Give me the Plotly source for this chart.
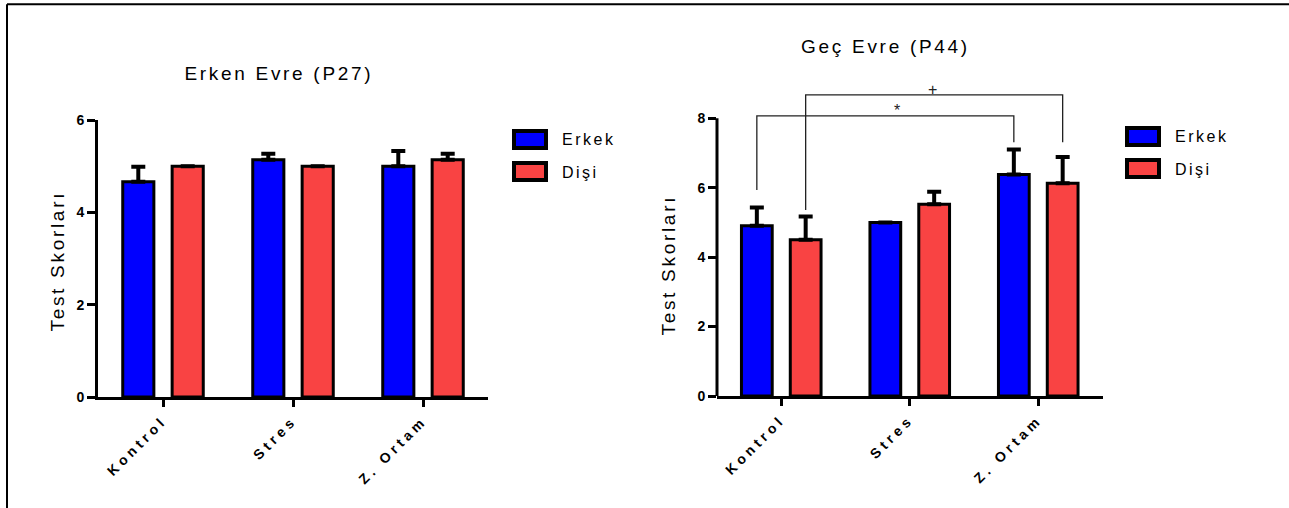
import plotly.graph_objects as go

# ---- data -------------------------------------------------------------
CATEGORIES = ["Kontrol", "Stres", "Z. Ortam"]
SERIES = ["Erkek", "Dişi"]

EARLY_ERKEK = [4.66, 5.14, 5.0]
EARLY_ERKEK_ERR = [0.33, 0.13, 0.33]
EARLY_DISI = [5.0, 5.0, 5.14]
EARLY_DISI_ERR = [0.0, 0.0, 0.13]

LATE_ERKEK = [4.9, 5.0, 6.38]
LATE_ERKEK_ERR = [0.53, 0.0, 0.72]
LATE_DISI = [4.5, 5.52, 6.13]
LATE_DISI_ERR = [0.67, 0.36, 0.75]

Y_TICKS_EARLY = [0, 2, 4, 6]
Y_TICKS_LATE = [0, 2, 4, 6, 8]

TITLE_EARLY = "Erken Evre (P27)"
TITLE_LATE = "Geç Evre (P44)"
Y_TITLE = "Test Skorları"

# significance brackets on the late-phase panel
BRACKETS = [
    dict(label="*", series=0, cat_a=0, cat_b=2, level=8.07, foot_a=5.93, foot_b=7.31, label_x=0.9),
    dict(label="+", series=1, cat_a=0, cat_b=2, level=8.67, foot_a=5.36, foot_b=7.31, label_x=1.18),
]

# ---- style ------------------------------------------------------------
W, H = 1289, 508
BLUE = "#0000FF"
RED = "#F94343"
COLORS = [BLUE, RED]
FONT = "Liberation Sans, Arial, sans-serif"
BARGAP = 0.24
BARGROUPGAP = 0.37


def px(x):
    return x / W


def py(y):
    return 1 - y / H


fig = go.Figure()


def add_bars(values, errors, name, color, xa, ya):
    fig.add_trace(go.Bar(
        x=CATEGORIES, y=values, name=name, xaxis=xa, yaxis=ya,
        marker=dict(color=color, line=dict(color="black", width=3)),
        error_y=dict(type="data", array=errors, arrayminus=[0] * len(errors),
                     symmetric=False, color="black", thickness=4, width=7),
        showlegend=False,
    ))


add_bars(EARLY_ERKEK, EARLY_ERKEK_ERR, SERIES[0], BLUE, "x", "y")
add_bars(EARLY_DISI, EARLY_DISI_ERR, SERIES[1], RED, "x", "y")
add_bars(LATE_ERKEK, LATE_ERKEK_ERR, SERIES[0], BLUE, "x2", "y2")
add_bars(LATE_DISI, LATE_DISI_ERR, SERIES[1], RED, "x2", "y2")

tick_font = dict(family=FONT, size=14, color="black", weight="bold")
xaxis_common = dict(
    type="category", range=[-0.5, 2.5], showgrid=False, zeroline=False,
    showline=True, linewidth=3, linecolor="black", automargin=False,
    ticks="outside", ticklen=7, tickwidth=3, tickcolor="black",
    tickangle=-45, tickfont=tick_font, fixedrange=True,
)
yaxis_common = dict(
    showgrid=False, zeroline=False, automargin=False,
    ticks="outside", ticklen=8, tickwidth=3, tickcolor="black",
    tickfont=dict(family=FONT, size=14, color="black", weight="bold"),
    fixedrange=True,
)

fig.update_layout(
    template="none",
    width=W, height=H, autosize=False,
    margin=dict(l=0, r=0, t=0, b=0, pad=0, autoexpand=False),
    paper_bgcolor="white", plot_bgcolor="white",
    barmode="group", bargap=BARGAP, bargroupgap=BARGROUPGAP,
    font=dict(family=FONT, color="black"),
    showlegend=False,
    xaxis=dict(domain=[px(98), px(488)], anchor="y", **xaxis_common),
    yaxis=dict(domain=[py(397), py(120)], anchor="x", range=[0, 6],
               tickvals=Y_TICKS_EARLY, showline=True, linewidth=3,
               linecolor="black", **yaxis_common),
    xaxis2=dict(domain=[px(717), px(1102.5)], anchor="y2", **xaxis_common),
    yaxis2=dict(domain=[py(396), py(83.5)], anchor="x2", range=[0, 9],
                tickvals=Y_TICKS_LATE, showline=False, **yaxis_common),
)

shapes = []
annotations = []

# late-phase y axis line stops at the top tick
shapes.append(dict(type="line", xref="x2 domain", yref="y2", x0=0, x1=0,
                   y0=0, y1=max(Y_TICKS_LATE), line=dict(color="black", width=3)))

# significance brackets
half = (1 - BARGAP) / 4
for b in BRACKETS:
    off = -half if b["series"] == 0 else half
    xa = b["cat_a"] + off
    xb = b["cat_b"] + off
    path = (f"M {xa},{b['foot_a']} L {xa},{b['level']} "
            f"L {xb},{b['level']} L {xb},{b['foot_b']}")
    shapes.append(dict(type="path", xref="x2", yref="y2", path=path,
                       line=dict(color="#222222", width=1.3)))
    annotations.append(dict(x=b["label_x"], y=b["level"], xref="x2", yref="y2",
                            text=b["label"], showarrow=False, xanchor="center",
                            yanchor="bottom", yshift=-5,
                            font=dict(size=16, family=FONT, color="#222222")))


def text_note(x, y, text, size, angle=0):
    return dict(x=px(x), y=py(y), xref="paper", yref="paper", text=text,
                textangle=angle, showarrow=False, xanchor="center", yanchor="middle",
                font=dict(size=size, family=FONT, color="black"))


# panel titles and axis titles
annotations += [
    text_note(279, 74, TITLE_EARLY, 19),
    text_note(885, 46, TITLE_LATE, 19),
    text_note(57, 261, Y_TITLE, 19, -90),
    text_note(668, 265, Y_TITLE, 19, -90),
]

# legends, one beside each panel
for lx, ly in [(514, 131), (1127, 128)]:
    for i, (name, color) in enumerate(zip(SERIES, COLORS)):
        top = ly + 32 * i
        shapes.append(dict(type="rect", xref="paper", yref="paper",
                           x0=px(lx), x1=px(lx + 32), y0=py(top + 17), y1=py(top),
                           fillcolor=color, line=dict(color="black", width=4)))
        annotations.append(dict(x=px(lx + 46), y=py(top + 9), xref="paper", yref="paper",
                                text=name, showarrow=False, xanchor="left", yanchor="middle",
                                align="left", font=dict(size=16, family=FONT, color="black")))

# outer frame (top and left edges)
shapes.append(dict(type="line", xref="paper", yref="paper", x0=px(7), x1=1,
                   y0=py(4.3), y1=py(4.3), line=dict(color="black", width=2)))
shapes.append(dict(type="line", xref="paper", yref="paper", x0=px(7), x1=px(7),
                   y0=py(4.3), y1=0, line=dict(color="black", width=2)))

fig.update_layout(shapes=shapes, annotations=annotations)

POST = """
document.documentElement.style.overflow = 'hidden';
document.body.style.margin = '0';
document.body.style.overflow = 'hidden';
var gd = document.getElementById('{plot_id}');
function spaceText() {
  gd.querySelectorAll('.xtick text, .x2tick text').forEach(function (t) {
    t.style.letterSpacing = '4px';
  });
  gd.querySelectorAll('.annotation-text').forEach(function (t) {
    var s = t.textContent;
    if (s === 'Erkek' || s === 'Dişi') { t.style.letterSpacing = '2.5px'; }
    else if (s.length > 1) { t.style.letterSpacing = '2.7px'; }
  });
}
spaceText();
gd.on('plotly_afterplot', spaceText);
setTimeout(spaceText, 50);
setTimeout(spaceText, 300);
"""

fig.write_html("out.html", post_script=POST, config={"displayModeBar": False})
